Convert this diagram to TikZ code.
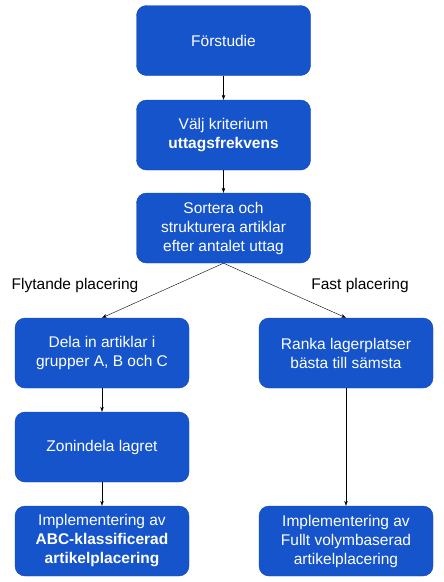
\documentclass[tikz,border=0pt]{standalone}
\usepackage{fontspec}
\setmainfont{Liberation Sans}
\usetikzlibrary{arrows.meta,positioning}
\definecolor{stegblå}{RGB}{22,84,204}
\definecolor{kantblå}{RGB}{14,70,180}

\begin{document}
\begin{tikzpicture}[x=1pt, y=-1pt,
    box/.style={draw=kantblå, fill=stegblå, text=white, rounded corners=10pt,
        minimum width=174pt, minimum height=70pt, align=center,
        font=\fontsize{15.5}{19}\selectfont},
    pil/.style={-{Stealth[length=5pt,width=3.5pt]}, thin},
    etikett/.style={font=\fontsize{15.5}{19}\selectfont}]
    \useasboundingbox (0,0) rectangle (444,582);

    % Gemensamma steg
    \node[box] (forstudie) at (223.5,40.5) {Förstudie};
    \node[box] (kriterium) at (223.5,135) {Välj kriterium\\\textbf{uttagsfrekvens}};
    \node[box] (sortera) at (223.5,228) {Sortera och\\strukturera artiklar\\efter antalet uttag};

    % Flytande placering
    \node[box] (dela) at (102,353) {Dela in artiklar i\\grupper A, B och C};
    \node[box] (zon) at (102,447) {Zonindela lagret};
    \node[box] (abc) at (102,541) {Implementering av\\\textbf{ABC-klassificerad}\\\textbf{artikelplacering}};

    % Fast placering
    \node[box] (ranka) at (346,353) {Ranka lagerplatser\\bästa till sämsta};
    \node[box] (volym) at (346,541) {Implementering av\\Fullt volymbaserad\\artikelplacering};

    % Etiketter
    \node[etikett] (flyt) at (75,285) {Flytande placering};
    \node[etikett] (fast) at (360,285) {Fast placering};

    % Pilar
    \draw[pil] (forstudie) -- (kriterium);
    \draw[pil] (kriterium) -- (sortera);
    \draw[pil] (sortera.south) -- (dela.north);
    \draw[pil] (sortera.south) -- (ranka.north);
    \draw[pil] (dela) -- (zon);
    \draw[pil] (zon) -- (abc);
    \draw[pil] (ranka) -- (volym);
\end{tikzpicture}
\end{document}
